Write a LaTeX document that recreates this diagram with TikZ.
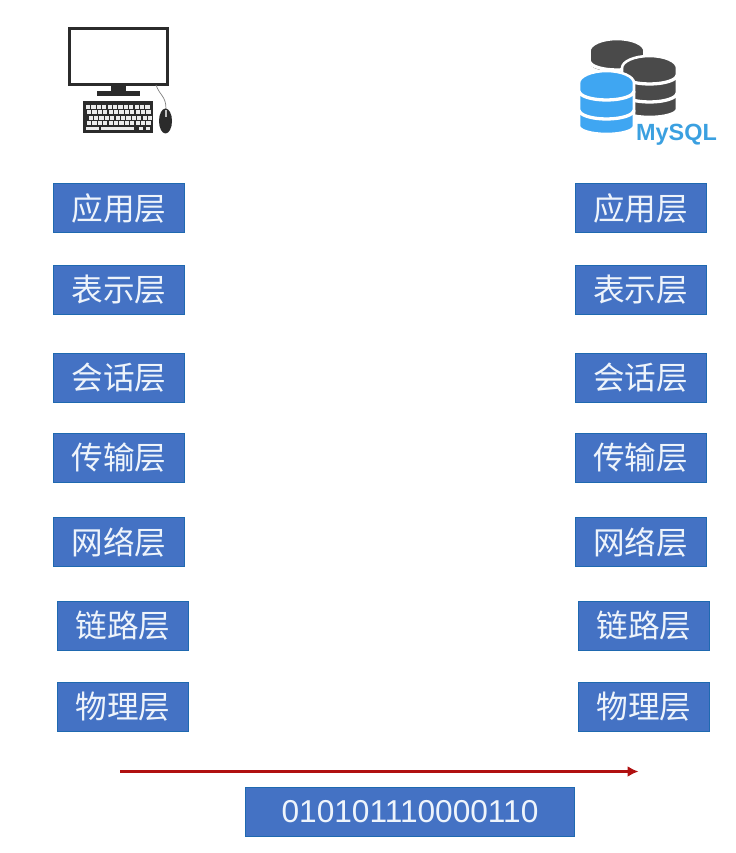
\documentclass[tikz,border=0pt]{standalone}
\usepackage{fontspec}
\usetikzlibrary{arrows.meta}
\setmainfont{Liberation Sans}
\newfontfamily\cjk{Noto Sans CJK SC}
\definecolor{layerblue}{HTML}{4472C4}
\definecolor{layeredge}{HTML}{1F69B0}
\definecolor{layertext}{HTML}{EEF4FB}
\definecolor{iconblack}{HTML}{2B2B2B}
\definecolor{dbgray}{HTML}{4A4A4A}
\definecolor{dbblue}{HTML}{3FA6F2}
\definecolor{sqlblue}{HTML}{3BA0E0}
\definecolor{arrowred}{HTML}{B01010}
\tikzset{
    layer/.style={draw=layeredge,line width=0.8pt,fill=layerblue,text=layertext,inner sep=0pt,
        minimum width=3.93cm,minimum height=1.47cm,font=\cjk\fontsize{27}{27}\selectfont},
    bits/.style={layer,minimum width=9.87cm,font=\fontsize{27}{27}\selectfont},
    dataflow/.style={-{Latex[length=0.33cm,width=0.33cm]},arrowred,line width=2.2pt}
}
% one disc stack: centre x, top side y, bottom side y, colour
\newcommand{\dbstack}[4]{
    \path[fill=#4,draw=white,line width=2.2pt] (#1-27.5,#2) arc[x radius=27.5,y radius=12,start angle=180,end angle=360]
        -- (#1+27.5,#3) arc[x radius=27.5,y radius=8,start angle=0,end angle=180] -- cycle;
}
\newcommand{\dbband}[2]{
    \draw[white,line width=2.8pt] (#1-27.5,#2) arc[x radius=27.5,y radius=9,start angle=180,end angle=0];
}
\begin{document}
\begin{tikzpicture}[x=0.03cm,y=-0.03cm]
    \useasboundingbox (0,0) rectangle (735,853);

    % computer
    \draw[iconblack,line width=1.9pt,fill=white] (69.5,28.5) rectangle (167.5,84.5);
    \fill[iconblack] (111,85) rectangle (126,92);
    \fill[iconblack] (97,91.5) rectangle (140,96);
    \fill[iconblack] (83,101) rectangle (153,133);
    \foreach \y/\s in {105/86,110.5/87,116/88.5,121.5/87}
        \foreach \x in {0,...,11}
            \fill[gray!15] (\s+\x*5.4,\y) rectangle +(4.2,3.8);
    \fill[gray!15] (86,127) rectangle (99,130.5);
    \fill[gray!15] (100.5,127) rectangle (134,130.5);
    \fill[gray!15] (139,127) rectangle (143,130.5);
    \fill[gray!15] (146,127) rectangle (150,130.5);
    \draw[gray,line width=0.6pt] (156,85) .. controls (160,96) and (166,96) .. (166,109);
    \fill[iconblack] (165.5,121) ellipse[x radius=6.5,y radius=12.5];
    \fill[gray!50] (164.5,110.5) rectangle (166.5,117);

    % database
    \dbstack{617}{51}{65}{dbgray}
    \dbband{617}{61}
    \dbstack{649.5}{68}{109}{dbgray}
    \dbband{649.5}{75}
    \dbband{649.5}{93}
    \dbstack{606.5}{83}{126}{dbblue}
    \dbband{606.5}{91}
    \dbband{606.5}{110}
    \node[text=sqlblue,font=\bfseries\fontsize{20}{20}\selectfont,inner sep=0pt] (mysql) at (676.5,135) {MySQL};

    % client layers
    \node[layer] (c1) at (119,208) {应用层};
    \node[layer] (c2) at (119,290) {表示层};
    \node[layer] (c3) at (119,377.5) {会话层};
    \node[layer] (c4) at (119,457.5) {传输层};
    \node[layer] (c5) at (119,542) {网络层};
    \node[layer] (c6) at (123,626) {链路层};
    \node[layer] (c7) at (123,706.5) {物理层};

    % server layers
    \node[layer] (s1) at (640.5,208) {应用层};
    \node[layer] (s2) at (640.5,290) {表示层};
    \node[layer] (s3) at (640.5,377.5) {会话层};
    \node[layer] (s4) at (640.5,457.5) {传输层};
    \node[layer] (s5) at (640.5,542) {网络层};
    \node[layer] (s6) at (644,626) {链路层};
    \node[layer] (s7) at (644,706.5) {物理层};

    % bit stream
    \coordinate (from) at (120,771.5);
    \coordinate (to) at (638.5,771.5);
    \draw[dataflow] (from) -- (to);
    \node[bits] (stream) at (410,812) {\raisebox{-1.5pt}{010101110000110}};
\end{tikzpicture}
\end{document}
